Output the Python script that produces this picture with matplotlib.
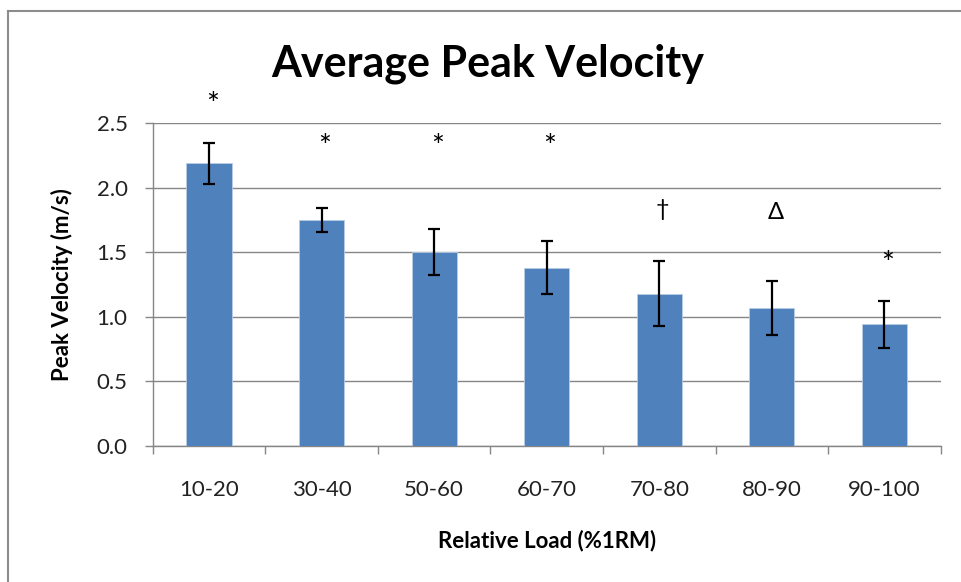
import numpy as np
import matplotlib.pyplot as plt
from matplotlib.lines import Line2D

plt.rcParams['font.family'] = ['Lato', 'DejaVu Sans']

loads = ["10-20", "30-40", "50-60", "60-70", "70-80", "80-90", "90-100"]
velocity = [2.19, 1.75, 1.50, 1.38, 1.18, 1.07, 0.94]
sd = [0.16, 0.09, 0.18, 0.205, 0.25, 0.21, 0.18]
marks = ["*", "*", "*", "*", "\u2020", "\u0394", "*"]
mark_y = [2.67, 2.35, 2.35, 2.35, 1.83, 1.81, 1.44]

fig = plt.figure(figsize=(9.61, 5.82), dpi=100)
ax = fig.add_axes([152.7 / 961, 136.3 / 582, 788 / 961, 322.4 / 582])

x = np.arange(len(loads))
ax.bar(x, velocity, width=0.4, color="#4F81BD", edgecolor="#B9CDE5", linewidth=0.6, zorder=3)
ax.errorbar(x, velocity, yerr=sd, fmt="none", ecolor="black", elinewidth=1.6,
            capsize=4, capthick=1.6, zorder=4)

for xi, m, my in zip(x, marks, mark_y):
    if m == "*":
        ax.text(xi + 0.03, my - 0.03, m, ha="center", va="center", fontsize=22, zorder=5)
    else:
        ax.text(xi + 0.03, my, m, ha="center", va="center", fontsize=17, zorder=5)

ax.set_xlim(-0.5, len(loads) - 0.5)
ax.set_ylim(0, 2.5)
ax.set_yticks(np.arange(0, 2.51, 0.5))
ax.set_yticklabels([f"{v:.1f}" for v in np.arange(0, 2.51, 0.5)])
ax.yaxis.grid(True, color="#868686", linewidth=1, zorder=0)
ax.set_axisbelow(True)

ax.set_xticks(x)
ax.set_xticklabels(loads)
ax.set_xticks(np.arange(-0.5, len(loads), 1), minor=True)
ax.tick_params(axis="x", which="major", length=0, pad=25, labelsize=16, colors="#222222")
ax.tick_params(axis="x", which="minor", length=6, width=1, color="#868686")
ax.tick_params(axis="y", length=6, width=1, color="#868686", pad=12, labelsize=16, labelcolor="#222222")

for side in ["top", "right"]:
    ax.spines[side].set_visible(False)
for side in ["left", "bottom"]:
    ax.spines[side].set_color("#868686")
    ax.spines[side].set_linewidth(1)

fig.text(62 / 961, 1 - 285 / 582, "Peak Velocity (m/s)", rotation=90, ha="center", va="center",
         fontsize=16, fontweight="bold")
fig.text(547 / 961, 1 - 541 / 582, "Relative Load (%1RM)", ha="center", va="center",
         fontsize=16, fontweight="bold")
fig.text(488 / 961, 1 - 64 / 582, "Average Peak Velocity", ha="center", va="center",
         fontsize=31, fontweight="bold")

# outer chart frame (only left and top edges visible)
fig.add_artist(Line2D([8 / 961, 8 / 961], [0, 1 - 11 / 582], transform=fig.transFigure,
                      color="#8c8c8c", linewidth=1.5))
fig.add_artist(Line2D([8 / 961, 1], [1 - 11 / 582, 1 - 11 / 582], transform=fig.transFigure,
                      color="#8c8c8c", linewidth=1.5))

fig.savefig("out.png", dpi=100)
